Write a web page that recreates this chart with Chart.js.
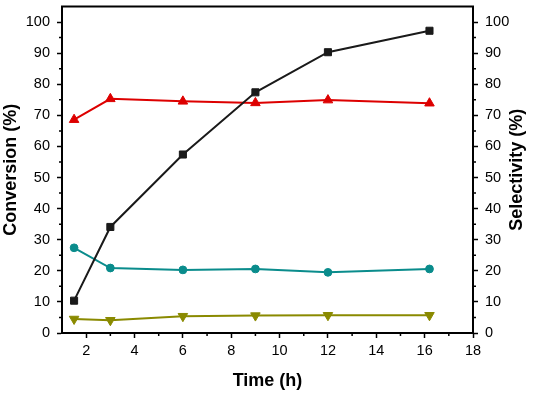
<!DOCTYPE html>
<html>
<head>
<meta charset="utf-8">
<script src="https://cdn.jsdelivr.net/npm/chart.js@4/dist/chart.umd.min.js"></script>
<style>
  body { margin: 0; background: #fff; }
  #wrap { width: 540px; height: 393px; }
</style>
</head>
<body>
<div id="wrap"><canvas id="chart"></canvas></div>
<script>
// data
const times = [1.5, 3, 6, 9, 12, 16.2];
const conversion = [10.4, 34.1, 57.4, 77.4, 90.3, 97.2];
const selRed = [68.6, 75.3, 74.5, 74.0, 74.9, 73.9];
const selTeal = [27.4, 20.9, 20.3, 20.6, 19.5, 20.6];
const selOlive = [4.5, 4.1, 5.4, 5.6, 5.7, 5.7];

const xTicks = [2, 4, 6, 8, 10, 12, 14, 16, 18];
const xMinor = [3, 5, 7, 9, 11, 13, 15, 17];
const yTicks = [0, 10, 20, 30, 40, 50, 60, 70, 80, 90, 100];
const yMinor = [5, 15, 25, 35, 45, 55, 65, 75, 85, 95];

const tickFont = { family: "Liberation Sans, Arial, sans-serif", size: 14.5 };
const titleFont = { family: "Liberation Sans, Arial, sans-serif", size: 18, weight: "bold" };

function pts(ys) {
  return times.map((t, i) => ({ x: t, y: ys[i] }));
}

function series(label, ys, color, style, radius, axis, rot) {
  return {
    label: label, data: pts(ys), yAxisID: axis,
    showLine: true, borderColor: color, backgroundColor: color,
    borderWidth: 2, pointStyle: style, pointRadius: radius, pointHoverRadius: radius,
    pointRotation: rot || 0, pointBorderWidth: 1
  };
}

function fixTicks(list) {
  return scale => { scale.ticks = list.map(v => ({ value: v })); };
}

function noPad(w, h) {
  return scale => {
    if (w) scale.width = w;
    if (h) scale.height = h;
    scale.paddingTop = 0; scale.paddingBottom = 0;
    scale.paddingLeft = 0; scale.paddingRight = 0;
  };
}

const axisGrid = { display: true, drawOnChartArea: false, drawTicks: true, tickLength: 5, tickWidth: 1.5, color: "#000" };
const axisBorder = { display: true, color: "#000", width: 2 };

// minor ticks, frame top line and right title
const extras = {
  id: "extras",
  afterDraw(chart) {
    const ctx = chart.ctx;
    const a = chart.chartArea;
    const sx = chart.scales.x, sy = chart.scales.y, sy1 = chart.scales.y1;
    ctx.save();
    ctx.strokeStyle = "#000";
    ctx.lineWidth = 1.5;
    ctx.beginPath();
    yMinor.forEach(v => {
      const p = sy.getPixelForValue(v);
      ctx.moveTo(a.left, p); ctx.lineTo(a.left - 3, p);
      const q = sy1.getPixelForValue(v);
      ctx.moveTo(a.right, q); ctx.lineTo(a.right + 3, q);
    });
    xMinor.forEach(v => {
      const p = sx.getPixelForValue(v);
      ctx.moveTo(p, a.bottom); ctx.lineTo(p, a.bottom + 3);
    });
    ctx.stroke();
    ctx.lineWidth = 2;
    ctx.beginPath();
    ctx.moveTo(a.left - 1, a.top); ctx.lineTo(a.right + 1, a.top);
    ctx.stroke();
    ctx.translate(517, (a.top + a.bottom) / 2);
    ctx.rotate(-Math.PI / 2);
    ctx.fillStyle = "#000";
    ctx.font = "bold 18px Liberation Sans, Arial, sans-serif";
    ctx.textAlign = "center";
    ctx.textBaseline = "middle";
    ctx.fillText("Selectivity (%)", 0, 0);
    ctx.restore();
  }
};

new Chart(document.getElementById("chart"), {
  type: "scatter",
  data: {
    datasets: [
      series("Conversion", conversion, "#1a1a1a", "rect", 5, "y"),
      series("Sel A", selRed, "#dd0000", "triangle", 5.5, "y1"),
      series("Sel B", selTeal, "#0a8c8c", "circle", 3.9, "y1"),
      series("Sel C", selOlive, "#8a8a00", "triangle", 5.5, "y1", 180)
    ]
  },
  options: {
    responsive: true, maintainAspectRatio: false, animation: false,
    layout: { padding: { top: 4, left: 0, right: 0, bottom: 0 } },
    plugins: { legend: { display: false }, tooltip: { enabled: false } },
    scales: {
      x: {
        type: "linear", min: 1, max: 18,
        afterBuildTicks: fixTicks(xTicks), afterFit: noPad(null, 60),
        grid: axisGrid, border: axisBorder,
        ticks: { color: "#000", font: tickFont, padding: 4, maxRotation: 0 },
        title: { display: true, text: "Time (h)", color: "#000", font: titleFont, padding: { top: 0, bottom: 1 } }
      },
      y: {
        position: "left", min: 0, max: 105,
        afterBuildTicks: fixTicks(yTicks), afterFit: noPad(62, null),
        grid: axisGrid, border: axisBorder,
        ticks: { color: "#000", font: tickFont, padding: 7 },
        title: { display: true, text: "Conversion (%)", color: "#000", font: titleFont, padding: { top: 0, bottom: 0 } }
      },
      y1: {
        position: "right", min: 0, max: 105,
        afterBuildTicks: fixTicks(yTicks), afterFit: noPad(67, null),
        grid: axisGrid, border: axisBorder,
        ticks: { color: "#000", font: tickFont, padding: 7 },
        title: { display: false }
      }
    }
  },
  plugins: [extras]
});
</script>
</body>
</html>
